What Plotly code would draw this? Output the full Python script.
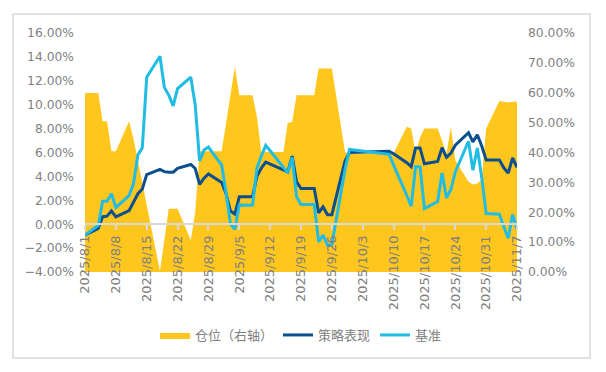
import plotly.graph_objects as go

dates = ["2025-08-01","2025-08-04","2025-08-05","2025-08-06","2025-08-07","2025-08-08",
         "2025-08-11","2025-08-12","2025-08-13","2025-08-14","2025-08-15",
         "2025-08-18","2025-08-19","2025-08-20","2025-08-21","2025-08-22",
         "2025-08-25","2025-08-26","2025-08-27","2025-08-28","2025-08-29",
         "2025-09-01","2025-09-02","2025-09-03","2025-09-04","2025-09-05",
         "2025-09-08","2025-09-09","2025-09-10","2025-09-11","2025-09-12",
         "2025-09-15","2025-09-16","2025-09-17","2025-09-18","2025-09-19",
         "2025-09-22","2025-09-23","2025-09-24","2025-09-25","2025-09-26",
         "2025-09-29","2025-09-30","2025-10-09","2025-10-10",
         "2025-10-13","2025-10-14","2025-10-15","2025-10-16","2025-10-17",
         "2025-10-20","2025-10-21","2025-10-22","2025-10-23","2025-10-24",
         "2025-10-27","2025-10-28","2025-10-29","2025-10-30","2025-10-31",
         "2025-11-03","2025-11-04","2025-11-05","2025-11-06","2025-11-07"]

position = [59.9, 59.9, 50.5, 50.5, 40.4, 40.4,
            50.5, 44.6, 37.2, 29.8, 22.4,
            0.3, 10.6, 21.2, 21.2, 21.2,
            10.6, 20.0, 40.4, 40.4, 40.4,
            40.4, 49.8, 59.2, 68.7, 59.2,
            59.2, 52.0, 40.2, 40.2, 40.2,
            40.2, 50.0, 50.2, 59.2, 59.2,
            59.2, 68.1, 68.1, 68.1, 68.1,
            40.0, 39.7, 39.7, 39.7,
            48.6, 48.0, 39.7, 45.0, 48.0,
            48.0, 44.0, 39.5, 48.6, 37.4,
            30.2, 29.3, 29.6, 31.0, 48.0,
            57.2, 57.0, 56.7, 57.0, 57.0]

strategy = [-0.92, -0.35, 0.63, 0.67, 1.12, 0.62,
            1.14, 1.80, 2.55, 2.95, 4.15,
            4.58, 4.40, 4.35, 4.35, 4.68,
            5.00, 4.66, 3.33, 3.85, 4.20,
            3.50, 2.55, 1.10, 0.85, 2.29,
            2.29, 4.00, 4.70, 5.20, 5.05,
            4.55, 4.38, 5.70, 3.54, 2.99,
            2.99, 0.95, 1.45, 0.80, 0.80,
            5.30, 6.00, 6.10, 5.90,
            5.15, 4.82, 6.38, 6.38, 5.05,
            5.25, 6.40, 5.60, 5.94, 6.61,
            7.65, 6.89, 7.48, 6.55, 5.38,
            5.38, 4.72, 4.27, 5.55, 4.75]

benchmark = [-0.92, -0.10, 1.92, 1.92, 2.55, 1.40,
             2.40, 3.40, 5.80, 6.40, 12.30,
             14.05, 11.45, 10.80, 9.90, 11.35,
             12.30, 10.00, 5.30, 6.20, 6.45,
             4.94, 2.65, 0.00, -0.43, 1.60,
             1.59, 4.70, 5.70, 6.60, 6.15,
             4.76, 4.30, 5.58, 2.29, 1.65,
             1.65, -1.48, -0.90, -1.76, -1.72,
             4.60, 6.25, 5.85, 4.94,
             2.40, 1.50, 4.82, 4.80, 1.31,
             1.90, 4.29, 2.20, 2.90, 4.38,
             6.94, 4.52, 6.38, 3.90, 0.90,
             0.84, -0.22, -1.17, 0.82, -0.40]

tick_dates = ["2025-08-01","2025-08-08","2025-08-15","2025-08-22","2025-08-29",
              "2025-09-05","2025-09-12","2025-09-19","2025-09-26","2025-10-03",
              "2025-10-10","2025-10-17","2025-10-24","2025-10-31","2025-11-07"]
tick_labels = ["2025/8/1","2025/8/8","2025/8/15","2025/8/22","2025/8/29",
               "2025/9/5","2025/9/12","2025/9/19","2025/9/26","2025/10/3",
               "2025/10/10","2025/10/17","2025/10/24","2025/10/31","2025/11/7"]

names = ["仓位（右轴）", "策略表现", "基准"]

YELLOW = "#FFC61E"
DARK = "#0B4F8E"
LIGHT = "#20BCE3"
GRAY = "#808080"
FONT = "DejaVu Sans, Noto Sans CJK SC, sans-serif"

# page offset (browser body margin)
O = 8
W, H = 606 - O, 372 - O
L, R, T, B = 85 - O, 517 - O, 33 - O, 272 - O
ph = B - T
pw = R - L

fig = go.Figure()
# area on primary axis (drawn below), lines on overlaying axis (drawn above)
fig.add_trace(go.Scatter(x=dates, y=position, name=names[0], yaxis="y",
                         mode="lines", fill="tozeroy", fillcolor=YELLOW,
                         line=dict(width=0, color=YELLOW)))
fig.add_trace(go.Scatter(x=dates, y=strategy, name=names[1], yaxis="y2", mode="lines",
                         line=dict(width=3, color=DARK)))
fig.add_trace(go.Scatter(x=dates, y=benchmark, name=names[2], yaxis="y2", mode="lines",
                         line=dict(width=3, color=LIGHT)))

fig.update_layout(
    width=W, height=H,
    margin=dict(l=L, r=W - R, t=T, b=H - B, pad=0),
    paper_bgcolor="white", plot_bgcolor="rgba(0,0,0,0)",
    font=dict(family=FONT, size=13, color=GRAY),
    showlegend=True,
    legend=dict(orientation="h", x=0.5, xanchor="center",
                y=(B - (335 - O)) / ph, yanchor="middle",
                font=dict(family=FONT, size=13, color=GRAY),
                itemwidth=30, traceorder="normal"),
    xaxis=dict(type="date", range=[dates[0], dates[-1]],
               tickvals=tick_dates, ticktext=tick_labels, tickangle=-90,
               anchor="free", position=0.2,
               showline=True, linecolor="#D9D9D9", linewidth=2,
               ticks="outside", ticklen=5, tickwidth=1.5, tickcolor="#D9D9D9",
               showgrid=False, zeroline=False,
               tickfont=dict(family=FONT, size=13, color=GRAY)),
    yaxis=dict(range=[0, 80], dtick=10, tick0=0, tickformat=".2f", ticksuffix="%",
               side="right", anchor="x",
               showgrid=False, zeroline=False, showline=False,
               ticklabelstandoff=10,
               tickfont=dict(family=FONT, size=12.3, color=GRAY)),
    yaxis2=dict(range=[-4, 16], dtick=2, tick0=0, tickformat=".2f", ticksuffix="%",
                overlaying="y", side="left", anchor="x",
                showgrid=False, zeroline=False, showline=False,
                ticklabelstandoff=10,
                tickfont=dict(family=FONT, size=12.3, color=GRAY)),
    shapes=[dict(type="rect", xref="paper", yref="paper",
                 x0=(13 - O - L) / pw, x1=(590 - O - L) / pw,
                 y0=(B - (358 - O)) / ph, y1=(B - (14 - O)) / ph,
                 line=dict(color="#D9D9D9", width=1.5), fillcolor="rgba(0,0,0,0)",
                 layer="below")],
)

fig.write_html("out.html")
